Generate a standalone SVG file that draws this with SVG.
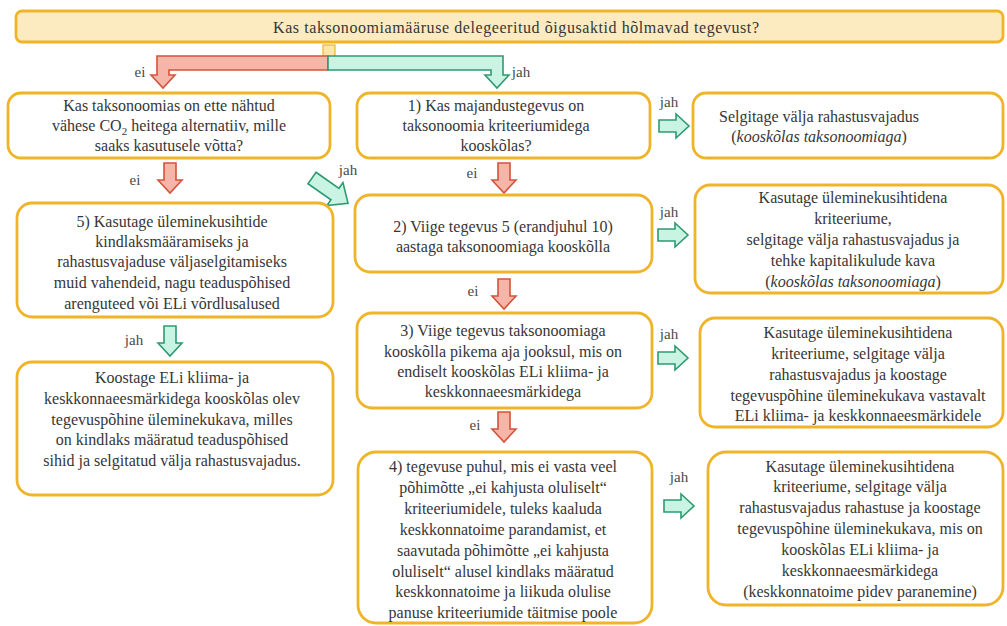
<svg xmlns="http://www.w3.org/2000/svg" xmlns:xlink="http://www.w3.org/1999/xlink" width="1007" height="626" viewBox="0 0 1007 626">
<style>
  text { font-family: "Liberation Serif", "DejaVu Serif", "Times New Roman", serif; font-size: 16px; fill: #363636; text-anchor: middle; }
  .lbl { font-size: 15px; fill: #4a4a4a; }
  .box { fill: #ffffff; stroke: #f0b429; stroke-width: 2.8; }
  .top { fill: #fcebc0; stroke: #f0b429; stroke-width: 2.8; }
  .red { fill: #f5b5a8; stroke: #d4533c; stroke-width: 1.6; stroke-linejoin: miter; }
  .green { fill: #c9f3e2; stroke: #2e9a70; stroke-width: 1.6; stroke-linejoin: miter; }
  .it { font-style: italic; }
</style>
<defs>
  <path id="dn" d="M-6,0 H6 V17 H12 L0,30 L-12,17 H-6 Z"/>
  <path id="rt" d="M0,-6 H17 V-12 L30,0 L17,12 V6 H0 Z"/>
</defs>
<rect width="1007" height="626" fill="#ffffff"/>

<g id="q0">
  <rect class="top" x="16" y="11" width="987" height="31" rx="6"/>
  <text x="516" y="33" textLength="486" lengthAdjust="spacing">Kas taksonoomiamääruse delegeeritud õigusaktid hõlmavad tegevust?</text>
</g>

<g id="connectors">
  <rect x="323" y="45" width="12" height="12" fill="#fde6a6" stroke="#f0b429" stroke-width="1.2"/>
  <path class="red" d="M328,56 H157 V75 H151 L163,88 L175,75 H169 V70 H328 Z"/>
  <path class="green" d="M328,56 H503 V75 H509 L497,88 L485,75 H491 V70 H328 Z"/>
  <text class="lbl" x="140" y="77">ei</text>
  <text class="lbl" x="521" y="77">jah</text>

  <use href="#dn" class="red" x="170" y="163"/>
  <text class="lbl" x="135" y="185">ei</text>
  <use href="#dn" class="green" x="170" y="326"/>
  <text class="lbl" x="134" y="345">jah</text>

  <path class="green" transform="translate(312,178) rotate(35)" d="M0,-7 H28 V-14 L44,0 L28,14 V7 H0 Z"/>
  <text class="lbl" x="348" y="175">jah</text>

  <use href="#dn" class="red" x="504" y="163"/>
  <text class="lbl" x="472" y="178">ei</text>
  <use href="#dn" class="red" x="504" y="279"/>
  <text class="lbl" x="473" y="296">ei</text>
  <use href="#dn" class="red" x="504" y="412"/>
  <text class="lbl" x="475" y="430">ei</text>

  <use href="#rt" class="green" x="659" y="126"/>
  <text class="lbl" x="669" y="107">jah</text>
  <use href="#rt" class="green" x="658" y="235"/>
  <text class="lbl" x="669" y="217">jah</text>
  <use href="#rt" class="green" x="658" y="358"/>
  <text class="lbl" x="669" y="339">jah</text>
  <use href="#rt" class="green" x="664" y="506"/>
  <text class="lbl" x="679" y="482">jah</text>
</g>

<g id="left1">
  <rect class="box" x="8" y="93" width="322" height="65" rx="13"/>
  <text x="169" y="111">Kas taksonoomias on ette nähtud</text>
  <text x="169" y="131">vähese CO<tspan font-size="11" dy="4">2</tspan><tspan dy="-4"> heitega alternatiiv, mille</tspan></text>
  <text x="169" y="151">saaks kasutusele võtta?</text>
</g>

<g id="left5">
  <rect class="box" x="17" y="203" width="316" height="114" rx="15"/>
  <text x="172" y="227">5) Kasutage üleminekusihtide</text>
  <text x="172" y="247">kindlaksmääramiseks ja</text>
  <text x="172" y="267">rahastusvajaduse väljaselgitamiseks</text>
  <text x="172" y="288">muid vahendeid, nagu teaduspõhised</text>
  <text x="172" y="309">arenguteed või ELi võrdlusalused</text>
</g>

<g id="leftFinal">
  <rect class="box" x="17" y="362" width="316" height="133" rx="15"/>
  <text x="172" y="383">Koostage ELi kliima- ja</text>
  <text x="172" y="404">keskkonnaeesmärkidega kooskõlas olev</text>
  <text x="172" y="425">tegevuspõhine üleminekukava, milles</text>
  <text x="172" y="445">on kindlaks määratud teaduspõhised</text>
  <text x="172" y="466">sihid ja selgitatud välja rahastusvajadus.</text>
</g>

<g id="mid1">
  <rect class="box" x="357" y="93" width="293" height="65" rx="13"/>
  <text x="496" y="111">1) Kas majandustegevus on</text>
  <text x="496" y="131">taksonoomia kriteeriumidega</text>
  <text x="496" y="151">kooskõlas?</text>
</g>

<g id="mid2">
  <rect class="box" x="355" y="195" width="297" height="77" rx="15"/>
  <text x="503" y="232">2) Viige tegevus 5 (erandjuhul 10)</text>
  <text x="503" y="252">aastaga taksonoomiaga kooskõlla</text>
</g>

<g id="mid3">
  <rect class="box" x="357" y="313" width="295" height="95" rx="15"/>
  <text x="503" y="336">3) Viige tegevus taksonoomiaga</text>
  <text x="503" y="357">kooskõlla pikema aja jooksul, mis on</text>
  <text x="503" y="377">endiselt kooskõlas ELi kliima- ja</text>
  <text x="503" y="397">keskkonnaeesmärkidega</text>
</g>

<g id="mid4">
  <rect class="box" x="358" y="452" width="294" height="171" rx="18"/>
  <text x="503" y="472">4) tegevuse puhul, mis ei vasta veel</text>
  <text x="503" y="493">põhimõtte „ei kahjusta oluliselt“</text>
  <text x="503" y="514">kriteeriumidele, tuleks kaaluda</text>
  <text x="503" y="535">keskkonnatoime parandamist, et</text>
  <text x="503" y="556">saavutada põhimõtte „ei kahjusta</text>
  <text x="503" y="577">oluliselt“ alusel kindlaks määratud</text>
  <text x="503" y="597">keskkonnatoime ja liikuda olulise</text>
  <text x="503" y="618">panuse kriteeriumide täitmise poole</text>
</g>

<g id="right1">
  <rect class="box" x="693" y="93" width="310" height="65" rx="13"/>
  <text x="819" y="122">Selgitage välja rahastusvajadus</text>
  <text x="819" y="142">(<tspan class="it">kooskõlas taksonoomiaga</tspan>)</text>
</g>

<g id="right2">
  <rect class="box" x="695" y="185" width="308" height="108" rx="15"/>
  <text x="853" y="203">Kasutage üleminekusihtidena</text>
  <text x="853" y="224">kriteeriume,</text>
  <text x="853" y="245">selgitage välja rahastusvajadus ja</text>
  <text x="853" y="266">tehke kapitalikulude kava</text>
  <text x="853" y="287">(<tspan class="it">kooskõlas taksonoomiaga</tspan>)</text>
</g>

<g id="right3">
  <rect class="box" x="700" y="318" width="303" height="109" rx="15"/>
  <text x="858" y="338">Kasutage üleminekusihtidena</text>
  <text x="858" y="359">kriteeriume, selgitage välja</text>
  <text x="858" y="380">rahastusvajadus ja koostage</text>
  <text x="858" y="401">tegevuspõhine üleminekukava vastavalt</text>
  <text x="858" y="421">ELi kliima- ja keskkonnaeesmärkidele</text>
</g>

<g id="right4">
  <rect class="box" x="708" y="452" width="295" height="153" rx="18"/>
  <text x="860" y="472">Kasutage üleminekusihtidena</text>
  <text x="860" y="492">kriteeriume, selgitage välja</text>
  <text x="860" y="513">rahastusvajadus rahastuse ja koostage</text>
  <text x="860" y="534">tegevuspõhine üleminekukava, mis on</text>
  <text x="860" y="555">kooskõlas ELi kliima- ja</text>
  <text x="860" y="576">keskkonnaeesmärkidega</text>
  <text x="860" y="597">(keskkonnatoime pidev paranemine)</text>
</g>
</svg>
